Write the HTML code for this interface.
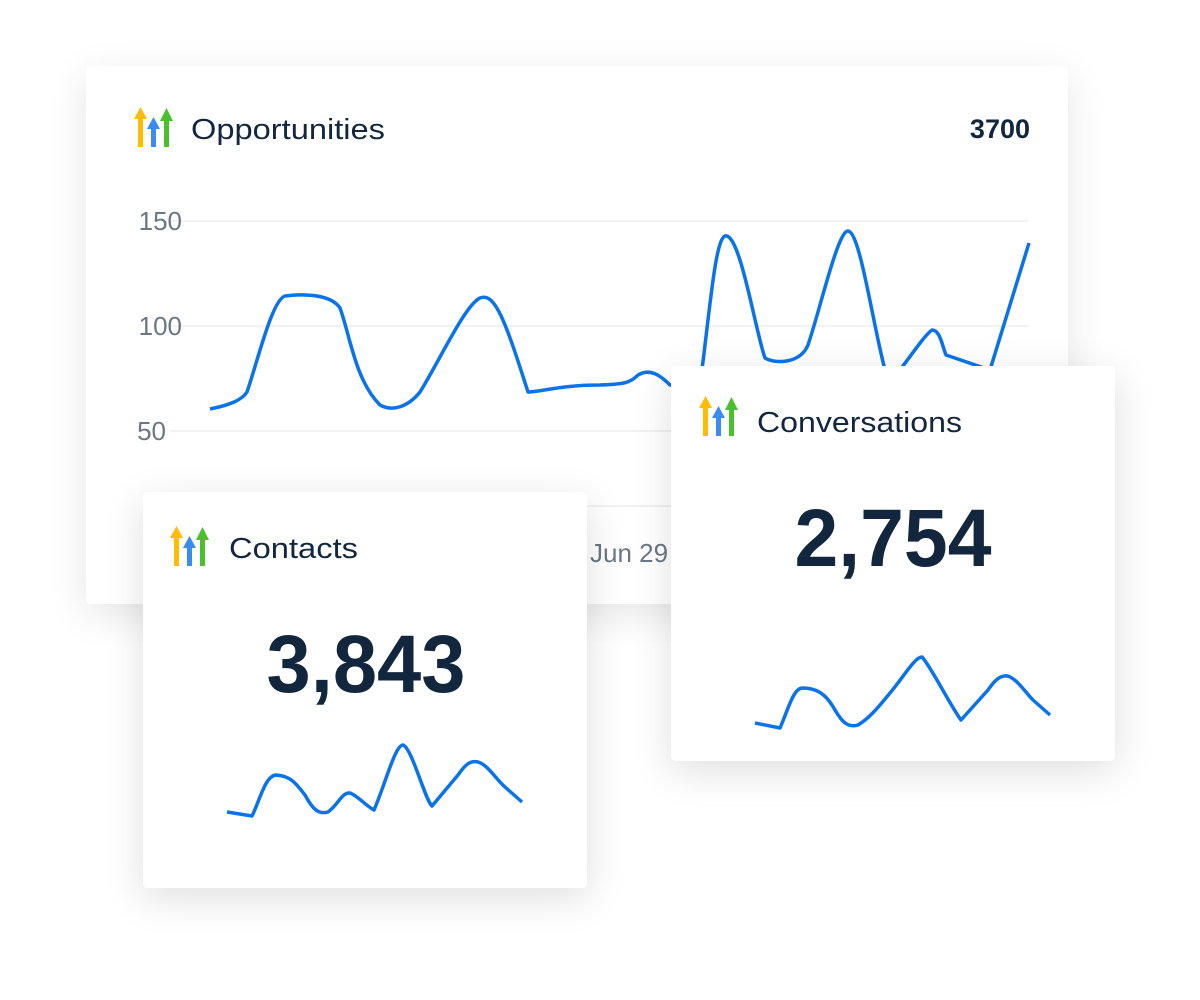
<!DOCTYPE html>
<html><head><meta charset="utf-8"><style>
body{margin:0;width:1200px;height:1000px;background:#fff;overflow:hidden;font-family:"Liberation Sans",sans-serif;position:relative}
.card{position:absolute;background:#fff;border-radius:4px;box-shadow:0 10px 40px rgba(0,0,0,0.10)}
svg{position:absolute;left:0;top:0}
</style></head><body>
<div class="card" style="left:86px;top:66px;width:982px;height:538px"></div>
<svg width="1200" height="1000" style="z-index:1">
<g transform="translate(135,107)"><rect x="3" y="10" width="5" height="30" fill="#FFBC00"/><polygon points="-1,12 5.5,0 12,12" fill="#FFBC00"/><rect x="16" y="20" width="5" height="20" fill="#3B8CF0"/><polygon points="12,22 18.5,10 25,22" fill="#3B8CF0"/><rect x="29" y="12" width="5" height="28" fill="#49C02C"/><polygon points="25,14 31.5,1 38,14" fill="#49C02C"/></g>
<text x="191" y="139" font-size="29" fill="#12263d" textLength="194" lengthAdjust="spacingAndGlyphs">Opportunities</text>
<text x="1030" y="138" font-size="27" font-weight="bold" fill="#12263d" text-anchor="end">3700</text>
<g stroke="#ebedf0" stroke-width="1.5"><line x1="170" y1="221" x2="1028" y2="221"/><line x1="170" y1="326" x2="1028" y2="326"/><line x1="170" y1="431" x2="1028" y2="431"/><line x1="170" y1="506" x2="1028" y2="506"/></g>
<g font-size="26" fill="#6b7785" text-anchor="end"><text x="182" y="230">150</text><text x="182" y="335">100</text><text x="166" y="440">50</text></g>
<text x="590" y="562" font-size="26" fill="#6b7785">Jun 29</text>
<path d="M210,409 C230,405 242,400 247,392 C258,360 272,300 285,296 C300,294 330,293 340,308 C350,335 355,380 380,405 C392,412 408,407 420,392 C440,360 465,305 480,298 C495,292 505,320 528,392 C540,392 560,385 600,385 C625,384 630,383 638,375 C650,368 660,375 670,385 L700,385 C710,310 715,240 725,236 C740,232 755,330 765,358 C775,364 800,364 808,345 C820,310 838,230 848,231 C860,232 872,320 885,370 L900,370 C915,350 925,335 932,330 C940,330 942,345 946,355 L990,370 L1029,243" fill="none" stroke="#0b73ea" stroke-width="3.5" stroke-linejoin="round"/>
</svg>
<div class="card" style="left:143px;top:492px;width:444px;height:396px;z-index:2;box-shadow:0 10px 40px rgba(0,0,0,0.13)"></div>
<div class="card" style="left:671px;top:366px;width:444px;height:395px;z-index:2;box-shadow:0 10px 40px rgba(0,0,0,0.13)"></div>
<svg width="1200" height="1000" style="z-index:3">
<g transform="translate(171,526)"><rect x="3" y="10" width="5" height="30" fill="#FFBC00"/><polygon points="-1,12 5.5,0 12,12" fill="#FFBC00"/><rect x="16" y="20" width="5" height="20" fill="#3B8CF0"/><polygon points="12,22 18.5,10 25,22" fill="#3B8CF0"/><rect x="29" y="12" width="5" height="28" fill="#49C02C"/><polygon points="25,14 31.5,1 38,14" fill="#49C02C"/></g>
<g transform="translate(700,396)"><rect x="3" y="10" width="5" height="30" fill="#FFBC00"/><polygon points="-1,12 5.5,0 12,12" fill="#FFBC00"/><rect x="16" y="20" width="5" height="20" fill="#3B8CF0"/><polygon points="12,22 18.5,10 25,22" fill="#3B8CF0"/><rect x="29" y="12" width="5" height="28" fill="#49C02C"/><polygon points="25,14 31.5,1 38,14" fill="#49C02C"/></g>
<text x="229" y="558" font-size="29" fill="#12263d" textLength="129" lengthAdjust="spacingAndGlyphs">Contacts</text>
<text x="757" y="432" font-size="29" fill="#12263d" textLength="205" lengthAdjust="spacingAndGlyphs">Conversations</text>
<text x="366" y="692" font-size="82" font-weight="bold" fill="#12263d" text-anchor="middle" textLength="199" lengthAdjust="spacingAndGlyphs">3,843</text>
<text x="893" y="566" font-size="82" font-weight="bold" fill="#12263d" text-anchor="middle" textLength="197" lengthAdjust="spacingAndGlyphs">2,754</text>
<path d="M227,812 L252,816 C260,800 265,776 276,775 C290,776 295,782 305,795 C312,808 318,815 328,812 C338,805 342,792 350,793 C358,796 365,805 374,810 C385,785 395,745 403,745 C412,748 425,800 432,806 L458,775 C465,765 470,760 478,762 C488,765 495,778 505,787 L522,802" fill="none" stroke="#0b73ea" stroke-width="3.5" stroke-linejoin="round"/>
<path d="M755,723 L780,728 C788,710 793,689 802,688 C815,688 825,692 835,710 C842,722 848,728 858,725 C870,718 880,705 890,693 C905,675 915,657 922,657 C930,665 950,705 961,720 L988,690 C995,680 1000,675 1008,676 C1018,680 1025,692 1033,700 L1050,715" fill="none" stroke="#0b73ea" stroke-width="3.5" stroke-linejoin="round"/>
</svg>
</body></html>
